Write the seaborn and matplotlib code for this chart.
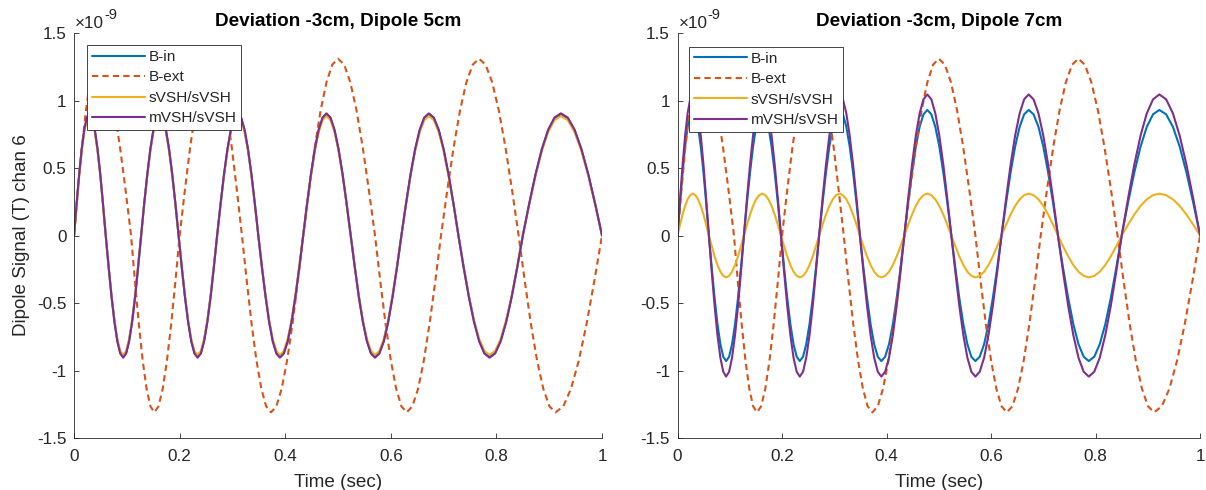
import matplotlib
matplotlib.use("Agg")
import matplotlib.pyplot as plt
from matplotlib.ticker import FuncFormatter, FixedLocator
import pandas as pd
import seaborn as sns

# ---------------- data (signal values in units of 1e-9 T) ----------------
# time stamps (sec) for the B-in / sVSH / mVSH family (same phase in both panels)
t_in = [
    0.000, 0.0048, 0.0097, 0.0145, 0.0193, 0.0242, 0.029,
    0.0342, 0.0393, 0.0445, 0.0497, 0.0548, 0.060,
    0.0655, 0.071, 0.0765, 0.082, 0.0875, 0.093,
    0.0987, 0.1043, 0.110, 0.1157, 0.1213, 0.127,
    0.1328, 0.1387, 0.1445, 0.1503, 0.1562, 0.162,
    0.168, 0.174, 0.180, 0.186, 0.192, 0.198,
    0.204, 0.210, 0.216, 0.222, 0.228, 0.234,
    0.2402, 0.2463, 0.2525, 0.2587, 0.2648, 0.271,
    0.2775, 0.284, 0.2905, 0.297, 0.3035, 0.310,
    0.3165, 0.323, 0.3295, 0.336, 0.3425, 0.349,
    0.3558, 0.3627, 0.3695, 0.3763, 0.3832, 0.390,
    0.3973, 0.4047, 0.412, 0.4193, 0.4267, 0.434,
    0.4413, 0.4487, 0.456, 0.4633, 0.4707, 0.478,
    0.4857, 0.4933, 0.501, 0.5087, 0.5163, 0.524,
    0.5317, 0.5393, 0.547, 0.5547, 0.5623, 0.570,
    0.5783, 0.5867, 0.595, 0.6033, 0.6117, 0.620,
    0.6287, 0.6373, 0.646, 0.6547, 0.6633, 0.672,
    0.6813, 0.6907, 0.700, 0.7093, 0.7187, 0.728,
    0.7378, 0.7477, 0.7575, 0.7673, 0.7772, 0.787,
    0.7975, 0.808, 0.8185, 0.829, 0.8395, 0.850,
    0.862, 0.874, 0.886, 0.898, 0.910, 0.922,
    0.935, 0.948, 0.961, 0.974, 0.987, 1.000,
]
# time stamps (sec) for B-ext (identical in both panels)
t_ext = [
    0.000, 0.0075, 0.015, 0.0225, 0.030, 0.0375, 0.045,
    0.0555, 0.066, 0.0765, 0.087, 0.0975, 0.108,
    0.1153, 0.1227, 0.130, 0.1373, 0.1447, 0.152,
    0.160, 0.168, 0.176, 0.184, 0.192, 0.200,
    0.210, 0.220, 0.230, 0.240, 0.250, 0.260,
    0.2697, 0.2793, 0.289, 0.2987, 0.3083, 0.318,
    0.3272, 0.3363, 0.3455, 0.3547, 0.3638, 0.373,
    0.3832, 0.3933, 0.4035, 0.4137, 0.4238, 0.434,
    0.445, 0.456, 0.467, 0.478, 0.489, 0.500,
    0.5117, 0.5233, 0.535, 0.5467, 0.5583, 0.570,
    0.580, 0.590, 0.600, 0.610, 0.620, 0.630,
    0.6408, 0.6517, 0.6625, 0.6733, 0.6842, 0.695,
    0.707, 0.719, 0.731, 0.743, 0.755, 0.767,
    0.7795, 0.792, 0.8045, 0.817, 0.8295, 0.842,
    0.8537, 0.8653, 0.877, 0.8887, 0.9003, 0.912,
    0.9267, 0.9413, 0.956, 0.9707, 0.9853, 1.000,
]

b_ext = [
    0, .339, .655, .926, 1.134, 1.265, 1.31, 1.265, 1.134, .926, .655, .339, 0, -.339, -.655, -.926, -1.134, -1.265, -1.31, -1.265, -1.134, -.926, -.655, -.339,
    0, .339, .655, .926, 1.134, 1.265, 1.31, 1.265, 1.134, .926, .655, .339, 0, -.339, -.655, -.926, -1.134, -1.265, -1.31, -1.265, -1.134, -.926, -.655, -.339,
    0, .339, .655, .926, 1.134, 1.265, 1.31, 1.265, 1.134, .926, .655, .339, 0, -.339, -.655, -.926, -1.134, -1.265, -1.31, -1.265, -1.134, -.926, -.655, -.339,
    0, .339, .655, .926, 1.134, 1.265, 1.31, 1.265, 1.134, .926, .655, .339, 0, -.339, -.655, -.926, -1.134, -1.265, -1.31, -1.265, -1.134, -.926, -.655, -.339,
    0,
]

# Left panel: Dipole 5cm
b_in_5 = [
    0, .233, .45, .636, .779, .869, .9, .869, .779, .636, .45, .233, 0, -.233, -.45, -.636, -.779, -.869, -.9, -.869, -.779, -.636, -.45, -.233,
    0, .233, .45, .636, .779, .869, .9, .869, .779, .636, .45, .233, 0, -.233, -.45, -.636, -.779, -.869, -.9, -.869, -.779, -.636, -.45, -.233,
    0, .233, .45, .636, .779, .869, .9, .869, .779, .636, .45, .233, 0, -.233, -.45, -.636, -.779, -.869, -.9, -.869, -.779, -.636, -.45, -.233,
    0, .233, .45, .636, .779, .869, .9, .869, .779, .636, .45, .233, 0, -.233, -.45, -.636, -.779, -.869, -.9, -.869, -.779, -.636, -.45, -.233,
    0, .233, .45, .636, .779, .869, .9, .869, .779, .636, .45, .233, 0, -.233, -.45, -.636, -.779, -.869, -.9, -.869, -.779, -.636, -.45, -.233,
    0, .233, .45, .636, .779, .869, .9, .869, .779, .636, .45, .233, 0,
]
svsh_5 = [
    0, .229, .443, .626, .766, .855, .885, .855, .766, .626, .443, .229, 0, -.229, -.443, -.626, -.766, -.855, -.885, -.855, -.766, -.626, -.443, -.229,
    0, .229, .443, .626, .766, .855, .885, .855, .766, .626, .443, .229, 0, -.229, -.443, -.626, -.766, -.855, -.885, -.855, -.766, -.626, -.443, -.229,
    0, .229, .443, .626, .766, .855, .885, .855, .766, .626, .443, .229, 0, -.229, -.443, -.626, -.766, -.855, -.885, -.855, -.766, -.626, -.443, -.229,
    0, .229, .443, .626, .766, .855, .885, .855, .766, .626, .443, .229, 0, -.229, -.443, -.626, -.766, -.855, -.885, -.855, -.766, -.626, -.443, -.229,
    0, .229, .443, .626, .766, .855, .885, .855, .766, .626, .443, .229, 0, -.229, -.443, -.626, -.766, -.855, -.885, -.855, -.766, -.626, -.443, -.229,
    0, .229, .443, .626, .766, .855, .885, .855, .766, .626, .443, .229, 0,
]
mvsh_5 = [
    0, .234, .453, .64, .784, .874, .905, .874, .784, .64, .453, .234, 0, -.234, -.453, -.64, -.784, -.874, -.905, -.874, -.784, -.64, -.453, -.234,
    0, .234, .453, .64, .784, .874, .905, .874, .784, .64, .453, .234, 0, -.234, -.453, -.64, -.784, -.874, -.905, -.874, -.784, -.64, -.453, -.234,
    0, .234, .453, .64, .784, .874, .905, .874, .784, .64, .453, .234, 0, -.234, -.453, -.64, -.784, -.874, -.905, -.874, -.784, -.64, -.453, -.234,
    0, .234, .453, .64, .784, .874, .905, .874, .784, .64, .453, .234, 0, -.234, -.453, -.64, -.784, -.874, -.905, -.874, -.784, -.64, -.453, -.234,
    0, .234, .453, .64, .784, .874, .905, .874, .784, .64, .453, .234, 0, -.234, -.453, -.64, -.784, -.874, -.905, -.874, -.784, -.64, -.453, -.234,
    0, .234, .453, .64, .784, .874, .905, .874, .784, .64, .453, .234, 0,
]

# Right panel: Dipole 7cm
b_in_7 = [
    0, .241, .465, .658, .805, .898, .93, .898, .805, .658, .465, .241, 0, -.241, -.465, -.658, -.805, -.898, -.93, -.898, -.805, -.658, -.465, -.241,
    0, .241, .465, .658, .805, .898, .93, .898, .805, .658, .465, .241, 0, -.241, -.465, -.658, -.805, -.898, -.93, -.898, -.805, -.658, -.465, -.241,
    0, .241, .465, .658, .805, .898, .93, .898, .805, .658, .465, .241, 0, -.241, -.465, -.658, -.805, -.898, -.93, -.898, -.805, -.658, -.465, -.241,
    0, .241, .465, .658, .805, .898, .93, .898, .805, .658, .465, .241, 0, -.241, -.465, -.658, -.805, -.898, -.93, -.898, -.805, -.658, -.465, -.241,
    0, .241, .465, .658, .805, .898, .93, .898, .805, .658, .465, .241, 0, -.241, -.465, -.658, -.805, -.898, -.93, -.898, -.805, -.658, -.465, -.241,
    0, .241, .465, .658, .805, .898, .93, .898, .805, .658, .465, .241, 0,
]
svsh_7 = [
    0, .08, .155, .219, .268, .299, .31, .299, .268, .219, .155, .08, 0, -.08, -.155, -.219, -.268, -.299, -.31, -.299, -.268, -.219, -.155, -.08,
    0, .08, .155, .219, .268, .299, .31, .299, .268, .219, .155, .08, 0, -.08, -.155, -.219, -.268, -.299, -.31, -.299, -.268, -.219, -.155, -.08,
    0, .08, .155, .219, .268, .299, .31, .299, .268, .219, .155, .08, 0, -.08, -.155, -.219, -.268, -.299, -.31, -.299, -.268, -.219, -.155, -.08,
    0, .08, .155, .219, .268, .299, .31, .299, .268, .219, .155, .08, 0, -.08, -.155, -.219, -.268, -.299, -.31, -.299, -.268, -.219, -.155, -.08,
    0, .08, .155, .219, .268, .299, .31, .299, .268, .219, .155, .08, 0, -.08, -.155, -.219, -.268, -.299, -.31, -.299, -.268, -.219, -.155, -.08,
    0, .08, .155, .219, .268, .299, .31, .299, .268, .219, .155, .08, 0,
]
mvsh_7 = [
    0, .271, .523, .739, .905, 1.009, 1.045, 1.009, .905, .739, .523, .271, 0, -.271, -.523, -.739, -.905, -1.009, -1.045, -1.009, -.905, -.739, -.523, -.271,
    0, .271, .523, .739, .905, 1.009, 1.045, 1.009, .905, .739, .523, .271, 0, -.271, -.523, -.739, -.905, -1.009, -1.045, -1.009, -.905, -.739, -.523, -.271,
    0, .271, .523, .739, .905, 1.009, 1.045, 1.009, .905, .739, .523, .271, 0, -.271, -.523, -.739, -.905, -1.009, -1.045, -1.009, -.905, -.739, -.523, -.271,
    0, .271, .523, .739, .905, 1.009, 1.045, 1.009, .905, .739, .523, .271, 0, -.271, -.523, -.739, -.905, -1.009, -1.045, -1.009, -.905, -.739, -.523, -.271,
    0, .271, .523, .739, .905, 1.009, 1.045, 1.009, .905, .739, .523, .271, 0, -.271, -.523, -.739, -.905, -1.009, -1.045, -1.009, -.905, -.739, -.523, -.271,
    0, .271, .523, .739, .905, 1.009, 1.045, 1.009, .905, .739, .523, .271, 0,
]

series_names = ["B-in", "B-ext", "sVSH/sVSH", "mVSH/sVSH"]
titles = ["Deviation -3cm, Dipole 5cm", "Deviation -3cm, Dipole 7cm"]
x_ticks = [0, 0.2, 0.4, 0.6, 0.8, 1]
y_ticks = [-1.5, -1, -0.5, 0, 0.5, 1, 1.5]
x_label = "Time (sec)"
y_label = "Dipole Signal (T) chan 6"

# ---------------- styling ----------------
colors = ["#0072BD", "#D95319", "#EDB120", "#7E2F8E"]
styles = ["-", (0, (3.0, 2.0)), "-", "-"]
AX_COL = "#262626"

sns.set_theme(style="white")
plt.rcParams["font.family"] = ["Liberation Sans", "DejaVu Sans"]
plt.rcParams["axes.edgecolor"] = AX_COL
plt.rcParams["axes.linewidth"] = 0.6
plt.rcParams["xtick.color"] = AX_COL
plt.rcParams["ytick.color"] = AX_COL
plt.rcParams["axes.labelcolor"] = AX_COL

TICK_FS = 12.3
LABEL_FS = 13.6
TITLE_FS = 13.6
LEG_FS = 11.1

fig = plt.figure(figsize=(12.06, 4.90), dpi=100)
ax_l = fig.add_axes([0.0614, 0.1061, 0.4378, 0.8265])
ax_r = fig.add_axes([0.5618, 0.1061, 0.4333, 0.8265])

panels = [
    (ax_l, titles[0], [(t_in, b_in_5), (t_ext, b_ext), (t_in, svsh_5), (t_in, mvsh_5)], True, (0.0252, 0.9704)),
    (ax_r, titles[1], [(t_in, b_in_7), (t_ext, b_ext), (t_in, svsh_7), (t_in, mvsh_7)], False, (0.0226, 0.966)),
]

for ax, title, data, show_ylabel, leg_anchor in panels:
    for (tx, vals), name, col, ls in zip(data, series_names, colors, styles):
        df = pd.DataFrame({"t": tx, "v": vals})
        sns.lineplot(data=df, x="t", y="v", ax=ax, color=col, linewidth=1.5,
                     linestyle=ls, label=name, estimator=None, sort=False)
    ax.set_xlim(0, 1)
    ax.set_ylim(-1.5, 1.5)
    ax.xaxis.set_major_locator(FixedLocator(x_ticks))
    ax.yaxis.set_major_locator(FixedLocator(y_ticks))
    fmt = FuncFormatter(lambda v, p: f"{v + 0:g}")
    ax.xaxis.set_major_formatter(fmt)
    ax.yaxis.set_major_formatter(fmt)
    ax.tick_params(axis="both", direction="in", length=3.6, width=0.6,
                   labelsize=TICK_FS, colors=AX_COL)
    ax.tick_params(axis="y", pad=5.5)
    ax.tick_params(axis="x", pad=7.6)
    ax.tick_params(axis="both", bottom=True, left=True, top=False, right=False)
    for s in ["top", "right"]:
        ax.spines[s].set_visible(False)
    ax.set_xlabel(x_label, fontsize=LABEL_FS, color=AX_COL, labelpad=7.5)
    if show_ylabel:
        ax.set_ylabel(y_label, fontsize=LABEL_FS, color=AX_COL, labelpad=5)
    else:
        ax.set_ylabel("")
    ax.set_title(title, fontsize=TITLE_FS, fontweight="bold", color="black", pad=5)
    ax.grid(False)

    handles, labels = ax.get_legend_handles_labels()
    leg = ax.legend(handles, labels, loc="upper left", bbox_to_anchor=leg_anchor,
                    borderaxespad=0, frameon=True, fancybox=False, framealpha=1,
                    edgecolor=AX_COL, fontsize=LEG_FS, handlelength=3.44,
                    handletextpad=0.21, labelspacing=0.42, borderpad=0.32)
    leg.get_frame().set_linewidth(0.6)
    for txt in leg.get_texts():
        txt.set_color(AX_COL)

    # exponent label  x10^-9
    ax.annotate("\u00d710", xy=(0, 1), xycoords="axes fraction", xytext=(1, 5),
                textcoords="offset pixels", ha="left", va="baseline",
                fontsize=TICK_FS, color=AX_COL, annotation_clip=False)
    ax.annotate("-9", xy=(0, 1), xycoords="axes fraction", xytext=(30, 14),
                textcoords="offset pixels", ha="left", va="baseline",
                fontsize=10.5, color=AX_COL, annotation_clip=False)

fig.savefig("out.png", dpi=100, facecolor="white")
